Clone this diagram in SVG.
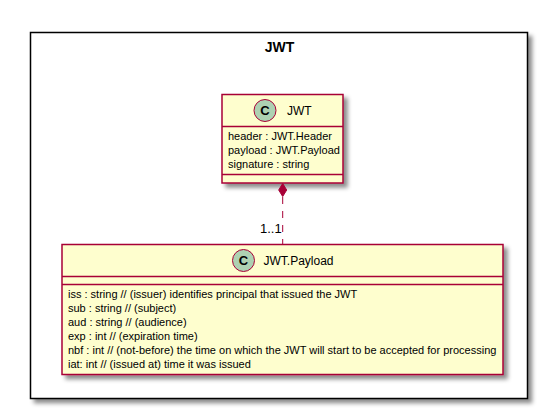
<svg xmlns="http://www.w3.org/2000/svg" width="539" height="410" viewBox="0 0 539 410">
<defs>
<filter id="sh" x="-10%" y="-10%" width="130%" height="130%">
<feGaussianBlur in="SourceAlpha" stdDeviation="2"/>
<feOffset dx="4" dy="4" result="b"/>
<feColorMatrix in="b" type="matrix" values="0 0 0 0 0  0 0 0 0 0  0 0 0 0 0  0 0 0 0.45 0"/>
<feMerge><feMergeNode/><feMergeNode in="SourceGraphic"/></feMerge>
</filter>
<style>
text{font-family:"Liberation Sans",Arial,sans-serif;fill:#000}
.box{fill:#FEFECE;stroke:#A80036;stroke-width:1.5}
.sep{stroke:#A80036;stroke-width:1.5}
.circ{fill:#ADD1B2;stroke:#A80036;stroke-width:1}
.attr{font-size:11px}
.title{font-size:12px}
.c{font-size:13px;font-weight:bold;fill:#000}
</style>
</defs>
<g id="pkg-JWT">
<rect x="30.5" y="32.5" width="497" height="366" fill="#FFFFFF" stroke="#000" stroke-width="1.5" filter="url(#sh)"/>
<text x="279.5" y="52" font-size="14" font-weight="bold" text-anchor="middle">JWT</text>
</g>
<g id="class-JWT">
<rect class="box" x="222" y="94.5" width="121" height="88.5" filter="url(#sh)"/>
<circle class="circ" cx="265" cy="110.5" r="11"/>
<text class="c" x="265" y="115" text-anchor="middle">C</text>
<text class="title" x="287" y="115">JWT</text>
<line class="sep" x1="222" y1="126.5" x2="343" y2="126.5"/>
<text class="attr" x="228" y="140">header : JWT.Header</text>
<text class="attr" x="228" y="154">payload : JWT.Payload</text>
<text class="attr" x="228" y="168">signature : string</text>
<line class="sep" x1="222" y1="174.5" x2="343" y2="174.5"/>
</g>
<g id="class-JWT.Payload">
<rect class="box" x="62" y="244.5" width="441" height="130" filter="url(#sh)"/>
<circle class="circ" cx="243.5" cy="260.5" r="11"/>
<text class="c" x="243.5" y="265" text-anchor="middle">C</text>
<text class="title" x="263.5" y="265">JWT.Payload</text>
<line class="sep" x1="62" y1="276.5" x2="503" y2="276.5"/>
<line class="sep" x1="62" y1="284.5" x2="503" y2="284.5"/>
<text class="attr" x="68" y="298">iss : string // (issuer) identifies principal that issued the JWT</text>
<text class="attr" x="68" y="312">sub : string // (subject)</text>
<text class="attr" x="68" y="326">aud : string // (audience)</text>
<text class="attr" x="68" y="340">exp : int // (expiration time)</text>
<text class="attr" x="68" y="354">nbf : int // (not-before) the time on which the JWT will start to be accepted for processing</text>
<text class="attr" x="68" y="368">iat: int // (issued at) time it was issued</text>
</g>
<g id="connectors">
<line x1="282.7" y1="197" x2="282.7" y2="244" stroke="#A80036" stroke-width="1" stroke-dasharray="7,7"/>
<polygon points="282.7,183.5 286.7,190 282.7,196.5 278.7,190" fill="#A80036" stroke="#A80036" stroke-width="1"/>
<text x="260" y="233" font-size="13">1..1</text>
</g>
</svg>
